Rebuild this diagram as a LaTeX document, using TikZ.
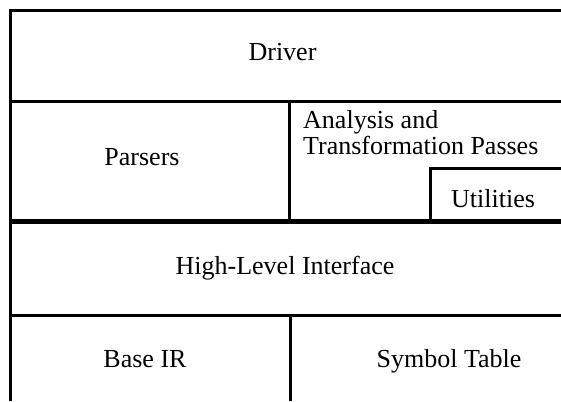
\documentclass[tikz,border=0pt]{standalone}
\usepackage{fontspec}
\setmainfont{Liberation Serif}
\begin{document}
\begin{tikzpicture}[x=1pt,y=-1pt,
  rule/.style={line width=3pt,black},
  thickrule/.style={line width=5pt,black},
  lbl/.style={font=\rmfamily\fontsize{26}{30}\selectfont,inner sep=0pt,anchor=base}]
\useasboundingbox (0,0) rectangle (561,401);
% frame and dividers
\draw[rule] (10.5,9.5) -- (10.5,401);
\draw[rule] (9,11) -- (561,11);
\draw[rule] (9,101.5) -- (561,101.5);
\draw[rule] (289,101.5) -- (289,221);
\draw[rule] (430.5,167) -- (430.5,221);
\draw[rule] (429,168.5) -- (561,168.5);
\draw[thickrule] (9,221) -- (561,221);
\draw[rule] (9,315) -- (561,315);
\draw[rule] (290.5,315) -- (290.5,401);
% labels
\node[lbl] (driver) at (282.5,61) {Driver};
\node[lbl] (parsers) at (142,165) {Parsers};
\node[lbl,anchor=base west] (analysis) at (303,128) {Analysis and};
\node[lbl,anchor=base west] (transf) at (303,154) {Transformation Passes};
\node[lbl] (utils) at (493,207) {Utilities};
\node[lbl] (hli) at (285,274) {High-Level Interface};
\node[lbl] (baseir) at (145,367) {Base IR};
\node[lbl] (symtab) at (449,367) {Symbol Table};
\end{tikzpicture}
\end{document}
